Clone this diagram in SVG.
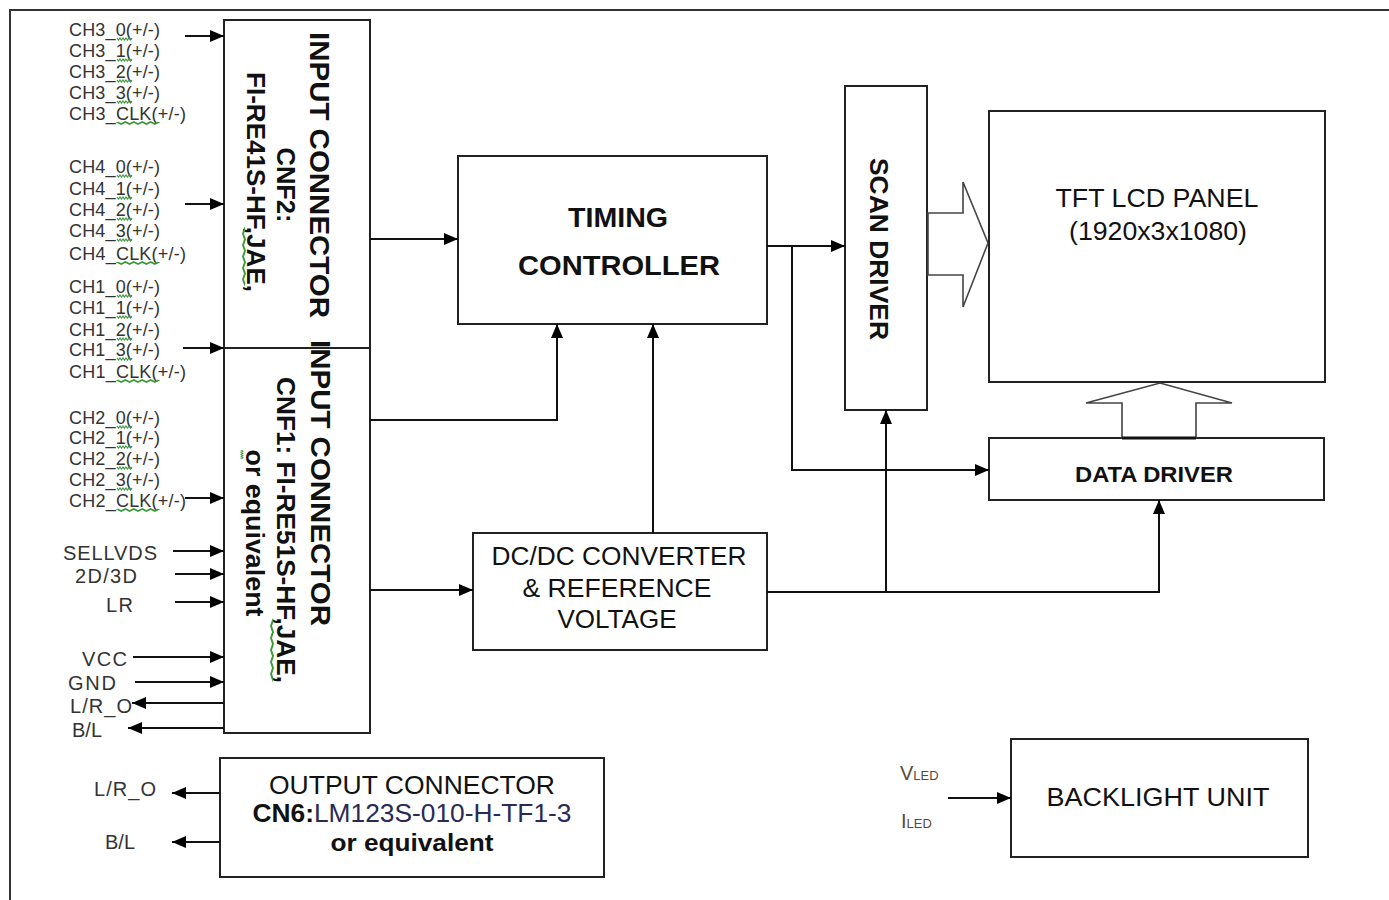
<svg xmlns="http://www.w3.org/2000/svg" width="1389" height="900" viewBox="0 0 1389 900">
<style>
.box{fill:#fff;stroke:#222;stroke-width:2}
.ln{fill:none;stroke:#111;stroke-width:2}
.big{fill:#fff;stroke:#444;stroke-width:1.6}
.sq{fill:none;stroke:#3a9a3a;stroke-width:1.2}
.lbl{font-family:"Liberation Sans",Arial,sans-serif;font-size:18px;fill:#333}
.lbl2{font-family:"Liberation Sans",Arial,sans-serif;font-size:20px;fill:#333}
.t{font-family:"Liberation Sans",Arial,sans-serif;fill:#111}
.b{font-weight:bold}
</style>
<defs>
<marker id="ah" markerUnits="userSpaceOnUse" markerWidth="14" markerHeight="12" viewBox="0 0 14 12" refX="14" refY="6" orient="auto">
<path d="M0,0 L14,6 L0,12 z" fill="#000"/>
</marker>
<path id="wv" d="M0,0 l1.5,2 l1.5,-2 l1.5,2 l1.5,-2 l1.5,2 l1.5,-2 l1.5,2 l1.5,-2 l1.5,2 l1.5,-2" class="sq"/>
</defs>
<rect width="1389" height="900" fill="#fff"/>
<g id="frame"><path d="M10,900 V10 H1389" fill="none" stroke="#333" stroke-width="2"/></g>

<g id="input-connector">
<rect class="box" x="224" y="20" width="146" height="713"/>
<text class="t b" font-size="28" text-anchor="middle" textLength="286" lengthAdjust="spacingAndGlyphs" transform="translate(310,175) rotate(90)">INPUT CONNECTOR</text>
<text class="t b" font-size="25" text-anchor="middle" textLength="75" lengthAdjust="spacingAndGlyphs" transform="translate(277,185) rotate(90)">CNF2:</text>
<text class="t b" font-size="25" text-anchor="middle" textLength="220" lengthAdjust="spacingAndGlyphs" transform="translate(247,182) rotate(90)">FI-RE41S-HF,JAE,</text>
<text class="t b" font-size="28" text-anchor="middle" textLength="286" lengthAdjust="spacingAndGlyphs" transform="translate(311,483) rotate(90)">INPUT CONNECTOR</text>
<line x1="224" y1="348" x2="370" y2="348" stroke="#222" stroke-width="2"/>
<text class="t b" font-size="25" text-anchor="middle" textLength="306" lengthAdjust="spacingAndGlyphs" transform="translate(277,530) rotate(90)">CNF1: FI-RE51S-HF,JAE,</text>
<text class="t b" font-size="25" text-anchor="middle" textLength="167" lengthAdjust="spacingAndGlyphs" transform="translate(246,533) rotate(90)">or equivalent</text>
<use href="#wv" transform="translate(245,228) rotate(90) scale(3.8,1)"/>
<use href="#wv" transform="translate(273,620) rotate(90) scale(4,1)"/>
<use href="#wv" transform="translate(243,450) rotate(90) scale(0.6,1)"/>
</g>

<g id="timing-controller">
<rect class="box" x="458" y="156" width="309" height="168"/>
<text class="t b" font-size="28" x="618" y="227" text-anchor="middle" textLength="100" lengthAdjust="spacingAndGlyphs">TIMING</text>
<text class="t b" font-size="28" x="619" y="275" text-anchor="middle" textLength="202" lengthAdjust="spacingAndGlyphs">CONTROLLER</text>
</g>

<g id="scan-driver">
<rect class="box" x="845" y="86" width="82" height="324"/>
<text class="t b" font-size="25" text-anchor="middle" textLength="182" lengthAdjust="spacingAndGlyphs" transform="translate(870,249) rotate(90)">SCAN DRIVER</text>
</g>

<g id="tft-panel">
<rect class="box" x="989" y="111" width="336" height="271"/>
<text class="t" font-size="26" x="1157" y="207" text-anchor="middle" textLength="203" lengthAdjust="spacingAndGlyphs">TFT LCD PANEL</text>
<text class="t" font-size="26" x="1158" y="240" text-anchor="middle" textLength="178" lengthAdjust="spacingAndGlyphs">(1920x3x1080)</text>
</g>

<g id="data-driver">
<rect class="box" x="989" y="438" width="335" height="62"/>
<text class="t b" font-size="22" x="1154" y="482" text-anchor="middle" textLength="158" lengthAdjust="spacingAndGlyphs">DATA DRIVER</text>
</g>

<g id="dcdc">
<rect class="box" x="473" y="533" width="294" height="117"/>
<text class="t" font-size="25" x="619" y="565" text-anchor="middle" textLength="255" lengthAdjust="spacingAndGlyphs">DC/DC CONVERTER</text>
<text class="t" font-size="25" x="617" y="597" text-anchor="middle" textLength="189" lengthAdjust="spacingAndGlyphs">&amp; REFERENCE</text>
<text class="t" font-size="25" x="617" y="628" text-anchor="middle" textLength="119" lengthAdjust="spacingAndGlyphs">VOLTAGE</text>
</g>

<g id="output-connector">
<rect class="box" x="220" y="758" width="384" height="119"/>
<text class="t" font-size="25" x="412" y="794" text-anchor="middle" textLength="286" lengthAdjust="spacingAndGlyphs">OUTPUT CONNECTOR</text>
<text class="t" font-size="25" x="412" y="822" text-anchor="middle" textLength="319" lengthAdjust="spacingAndGlyphs"><tspan font-weight="bold">CN6:</tspan><tspan fill="#2a2a55">LM123S-010-H-TF1-3</tspan></text>
<text class="t b" font-size="24" x="412" y="851" text-anchor="middle" textLength="163" lengthAdjust="spacingAndGlyphs">or equivalent</text>
</g>

<g id="backlight">
<rect class="box" x="1011" y="739" width="297" height="118"/>
<text class="t" font-size="26" x="1158" y="806" text-anchor="middle" textLength="223" lengthAdjust="spacingAndGlyphs">BACKLIGHT UNIT</text>
</g>

<g id="signal-labels">
<g class="lbl">
<text x="69" y="36" textLength="91">CH3_0(+/-)</text>
<text x="69" y="57" textLength="91">CH3_1(+/-)</text>
<text x="69" y="78" textLength="91">CH3_2(+/-)</text>
<text x="69" y="99" textLength="91">CH3_3(+/-)</text>
<text x="69" y="120" textLength="117">CH3_CLK(+/-)</text>
<text x="69" y="173" textLength="91">CH4_0(+/-)</text>
<text x="69" y="195" textLength="91">CH4_1(+/-)</text>
<text x="69" y="216" textLength="91">CH4_2(+/-)</text>
<text x="69" y="237" textLength="91">CH4_3(+/-)</text>
<text x="69" y="260" textLength="117">CH4_CLK(+/-)</text>
<text x="69" y="293" textLength="91">CH1_0(+/-)</text>
<text x="69" y="314" textLength="91">CH1_1(+/-)</text>
<text x="69" y="336" textLength="91">CH1_2(+/-)</text>
<text x="69" y="356" textLength="91">CH1_3(+/-)</text>
<text x="69" y="378" textLength="117">CH1_CLK(+/-)</text>
<text x="69" y="424" textLength="91">CH2_0(+/-)</text>
<text x="69" y="444" textLength="91">CH2_1(+/-)</text>
<text x="69" y="465" textLength="91">CH2_2(+/-)</text>
<text x="69" y="486" textLength="91">CH2_3(+/-)</text>
<text x="69" y="507" textLength="117">CH2_CLK(+/-)</text>
</g>
<g class="lbl2">
<text x="63" y="560" textLength="94">SELLVDS</text>
<text x="75" y="583" textLength="62">2D/3D</text>
<text x="106" y="612" textLength="27">LR</text>
<text x="82" y="666" textLength="45">VCC</text>
<text x="68" y="690" textLength="48">GND</text>
<text x="70" y="713" textLength="62">L/R_O</text>
<text x="72" y="737" textLength="30">B/L</text>
<text x="94" y="796" textLength="62">L/R_O</text>
<text x="105" y="849" textLength="30">B/L</text>
<text x="900" y="780" fill="#5a4a3a"><tspan font-size="20">V</tspan><tspan font-size="13">LED</tspan></text>
<text x="901" y="828" fill="#5a4a3a"><tspan font-size="20">I</tspan><tspan font-size="13">LED</tspan></text>
</g>
<g>
<use href="#wv" transform="translate(117,38)"/>
<use href="#wv" transform="translate(117,59)"/>
<use href="#wv" transform="translate(117,80)"/>
<use href="#wv" transform="translate(117,101)"/>
<use href="#wv" transform="translate(117,122) scale(2.8,1)"/>
<use href="#wv" transform="translate(117,175)"/>
<use href="#wv" transform="translate(117,197)"/>
<use href="#wv" transform="translate(117,218)"/>
<use href="#wv" transform="translate(117,239)"/>
<use href="#wv" transform="translate(117,262) scale(2.8,1)"/>
<use href="#wv" transform="translate(117,295)"/>
<use href="#wv" transform="translate(117,316)"/>
<use href="#wv" transform="translate(117,338)"/>
<use href="#wv" transform="translate(117,358)"/>
<use href="#wv" transform="translate(117,380) scale(2.8,1)"/>
<use href="#wv" transform="translate(117,426)"/>
<use href="#wv" transform="translate(117,446)"/>
<use href="#wv" transform="translate(117,467)"/>
<use href="#wv" transform="translate(117,488)"/>
<use href="#wv" transform="translate(117,509) scale(2.8,1)"/>
</g>
</g>

<g id="connectors">
<g class="ln" marker-end="url(#ah)">
<path d="M185,36 H224"/>
<path d="M185,204 H224"/>
<path d="M183,348 H224"/>
<path d="M185,498 H224"/>
<path d="M173,551 H224"/>
<path d="M175,574 H224"/>
<path d="M175,602 H224"/>
<path d="M133,657 H224"/>
<path d="M135,682 H224"/>
<path d="M224,703 H132"/>
<path d="M224,728 H128"/>
<path d="M220,793 H172"/>
<path d="M220,842 H172"/>
<path d="M948,798 H1011"/>
<path d="M370,239 H458"/>
<path d="M370,420 H557 V324"/>
<path d="M653,533 V324"/>
<path d="M370,590 H473"/>
<path d="M767,246 H845"/>
<path d="M792,246 V470 H989"/>
<path d="M767,592 H1159 V500"/>
<path d="M886,592 V410"/>
</g>
<polygon class="big" points="928,213 963,213 963,182 988,243 963,307 963,275 928,275"/>
<polygon class="big" points="1122,438 1122,403 1086,403 1160,383 1232,403 1196,403 1196,438"/>
<line x1="1122" y1="438" x2="1196" y2="438" stroke="#111" stroke-width="3"/>
</g>
</svg>
